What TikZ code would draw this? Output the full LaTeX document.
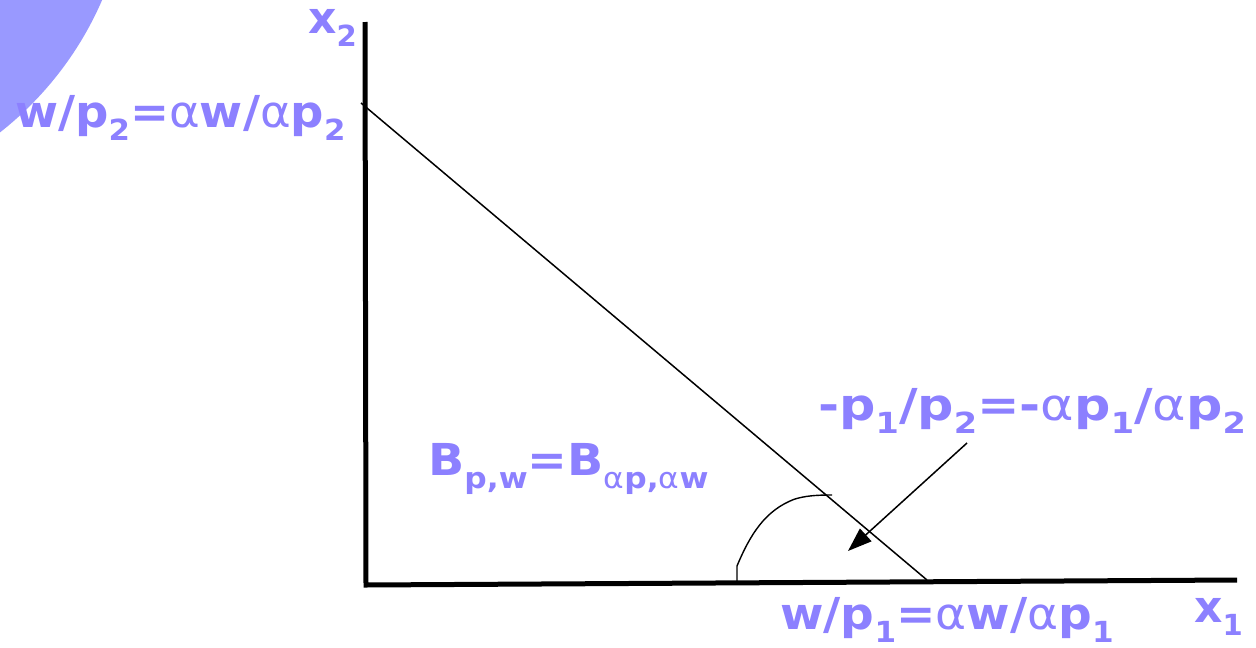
\documentclass[tikz,border=0pt]{standalone}
\usepackage{fontspec}
\usepackage{graphicx}
\usepackage{xcolor}
\usetikzlibrary{positioning,arrows.meta}
\newfontfamily\lblfont{DejaVu Sans}
\definecolor{lblblue}{RGB}{140,128,255}
\definecolor{discblue}{RGB}{153,153,255}
\newcommand\lo[1]{\raisebox{-0.3em}{\scalebox{0.66}{#1}}}
\newcommand\al{{\mdseries α}}
\newcommand\wide[2]{\scalebox{#1}[1]{#2}}

\begin{document}
\begin{tikzpicture}[x=1pt, y=-1pt, every node/.style={text=lblblue, inner sep=0pt, anchor=base west}]
\tikzset{lbl/.style={font=\lblfont\bfseries\fontsize{44}{48}\selectfont}}
\useasboundingbox (0,0) rectangle (1256,648);
\clip (0,0) rectangle (1256,648);
\fill[discblue] (-210,-135) circle (340pt);
\coordinate (orig) at (366,585);
\coordinate (ytop) at (365,22);
\coordinate (xend) at (1237,580);
\coordinate (yint) at (361,103);
\coordinate (xint) at (927,580);
\coordinate (arcA) at (737,583);
\coordinate (arcB) at (832,495);
\coordinate (arrS) at (967,443);
\coordinate (arrT) at (848,551);
\draw[line width=5pt] (ytop) -- (orig) -- (xend);
\draw[line width=1.5pt] (yint) -- (xint);
\draw[line width=1.4pt] (arcA) -- (737,566) .. controls (750,535) and (765,510) .. (795,499) .. controls (805,496) and (815,495) .. (arcB);
\draw[line width=1.5pt, -{Triangle[length=24pt, width=17pt]}] (arrS) -- (arrT);
\node[lbl] (x2lbl) at (308,33) {x\lo{2}};
\node[lbl] (ylbl) at (15,127) {\wide{1.06}{w/p\lo{2}=\al w/\al p\lo{2}}};
\node[lbl] (slope) at (818,420) {\wide{1.155}{-p\lo{1}/p\lo{2}=-\al p\lo{1}/\al p\lo{2}}};
\node[lbl] (blbl) at (428,475) {\wide{1.08}{B\lo{p,w}=B\lo{\al p,\al w}}};
\node[lbl] (xlbl) at (780,629) {\wide{1.07}{w/p\lo{1}=\al w/\al p\lo{1}}};
\node[lbl] (x1lbl) at (1194,622) {x\lo{1}};
\end{tikzpicture}
\end{document}
